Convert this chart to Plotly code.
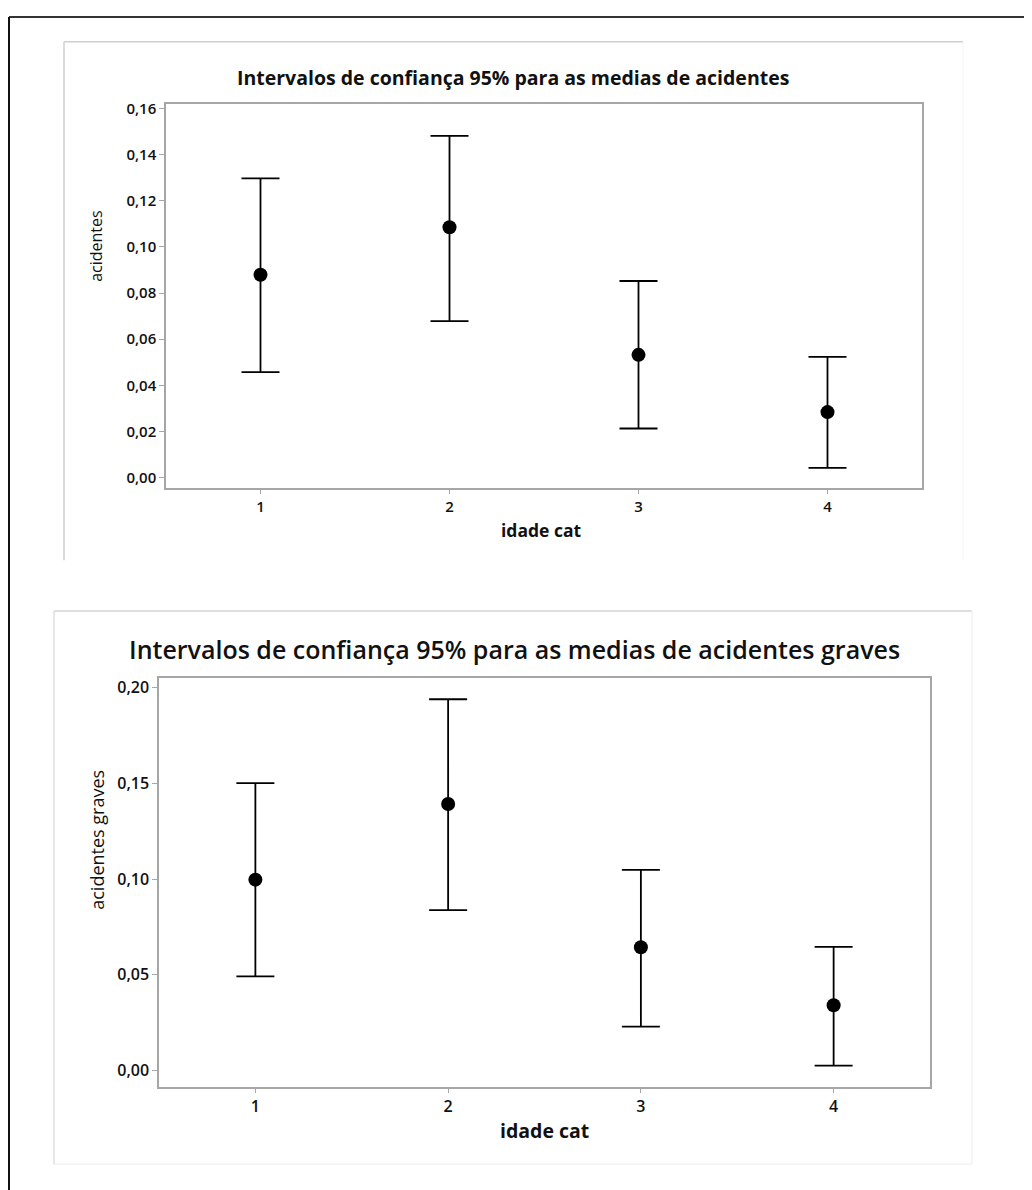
import plotly.graph_objects as go

W, H = 1032, 1190
OFF = 8  # default page body margin
FW, FH = W - OFF, H - OFF

# ---- data ----
categories = [1, 2, 3, 4]
acid_mean = [0.0879, 0.1085, 0.0532, 0.0284]
acid_lower = [0.0457, 0.0678, 0.0213, 0.0042]
acid_upper = [0.1297, 0.1481, 0.0852, 0.0523]

grave_mean = [0.0997, 0.1392, 0.0644, 0.0341]
grave_lower = [0.0492, 0.0838, 0.0230, 0.0026]
grave_upper = [0.1501, 0.1939, 0.1048, 0.0646]

top_yticks = [0.00, 0.02, 0.04, 0.06, 0.08, 0.10, 0.12, 0.14, 0.16]
bot_yticks = [0.00, 0.05, 0.10, 0.15, 0.20]

FONT = "Open Sans"

def px(x):
    return (x - OFF) / FW

def py(y):
    return 1 - (y - OFF) / FH

fig = go.Figure()

def add_ci(mean, lower, upper, xa, ya):
    fig.add_trace(go.Scatter(
        x=categories, y=mean, mode="markers",
        marker=dict(color="black", size=14),
        error_y=dict(type="data", symmetric=False,
                     array=[u - m for u, m in zip(upper, mean)],
                     arrayminus=[m - l for m, l in zip(mean, lower)],
                     color="black", thickness=1.8, width=19),
        xaxis=xa, yaxis=ya, showlegend=False, hoverinfo="skip"))

add_ci(acid_mean, acid_lower, acid_upper, "x", "y")
add_ci(grave_mean, grave_lower, grave_upper, "x2", "y2")

def axis_common(size):
    return dict(showline=True, mirror=True, linecolor="#a6a6a6", linewidth=1.5,
                ticks="outside", ticklen=5, tickcolor="#a6a6a6", tickwidth=1,
                showgrid=False, zeroline=False,
                tickfont=dict(family=FONT, size=size, color="#111", weight=600))

fig.update_layout(
    width=FW, height=FH, margin=dict(l=0, r=0, t=0, b=0),
    paper_bgcolor="white", plot_bgcolor="white",
    separators=",.",
    xaxis=dict(domain=[px(166), px(922)], range=[0.5, 4.5], tickvals=categories,
               anchor="y", **axis_common(15)),
    yaxis=dict(domain=[py(484), py(98)], range=[-0.0043, 0.1621], tickvals=top_yticks,
               tickformat=".2f", anchor="x", **axis_common(15)),
    xaxis2=dict(domain=[px(159), px(930)], range=[0.5, 4.5], tickvals=categories,
                anchor="y2", **axis_common(16)),
    yaxis2=dict(domain=[py(1086), py(675)], range=[-0.0083, 0.2052], tickvals=bot_yticks,
                tickformat=".2f", anchor="x2", **axis_common(16)),
)

def line(x0, y0, x1, y1, color, width):
    fig.add_shape(type="line", xref="paper", yref="paper",
                  x0=px(x0), y0=py(y0), x1=px(x1), y1=py(y1),
                  line=dict(color=color, width=width), layer="below")

# outer border
line(9, 11, 1032, 11, "#333333", 2)
line(9, 11, 9, 1190, "#111111", 2)
# top panel frame
line(64, 36, 963, 36, "#cfcfcf", 1.5)
line(64, 36, 64, 557, "#cfcfcf", 1.5)
line(963, 36, 963, 557, "#f2f2f2", 1)
# bottom panel frame
line(54, 608, 972, 608, "#d4d4d4", 1.5)
line(54, 608, 54, 1164, "#dedede", 1.5)
line(972, 608, 972, 1164, "#ececec", 1)
line(54, 1164, 972, 1164, "#ececec", 1)

def ann(text, x, y, size, weight=400, angle=0):
    fig.add_annotation(text=text, xref="paper", yref="paper", x=px(x), y=py(y),
                       showarrow=False, textangle=angle, xanchor="center", yanchor="middle",
                       font=dict(family=FONT, size=size, color="#111", weight=weight))

ann("Intervalos de confiança 95% para as medias de acidentes", 513, 72, 19.5, 700)
ann("acidentes", 96, 241, 16, 400, -90)
ann("idade cat", 541, 527, 17.5, 700)

ann("Intervalos de confiança 95% para as medias de acidentes graves", 514, 646, 25, 600)
ann("acidentes graves", 97, 838, 18, 400, -90)
ann("idade cat", 544, 1130, 19.5, 700)

fig.write_html("out.html")
